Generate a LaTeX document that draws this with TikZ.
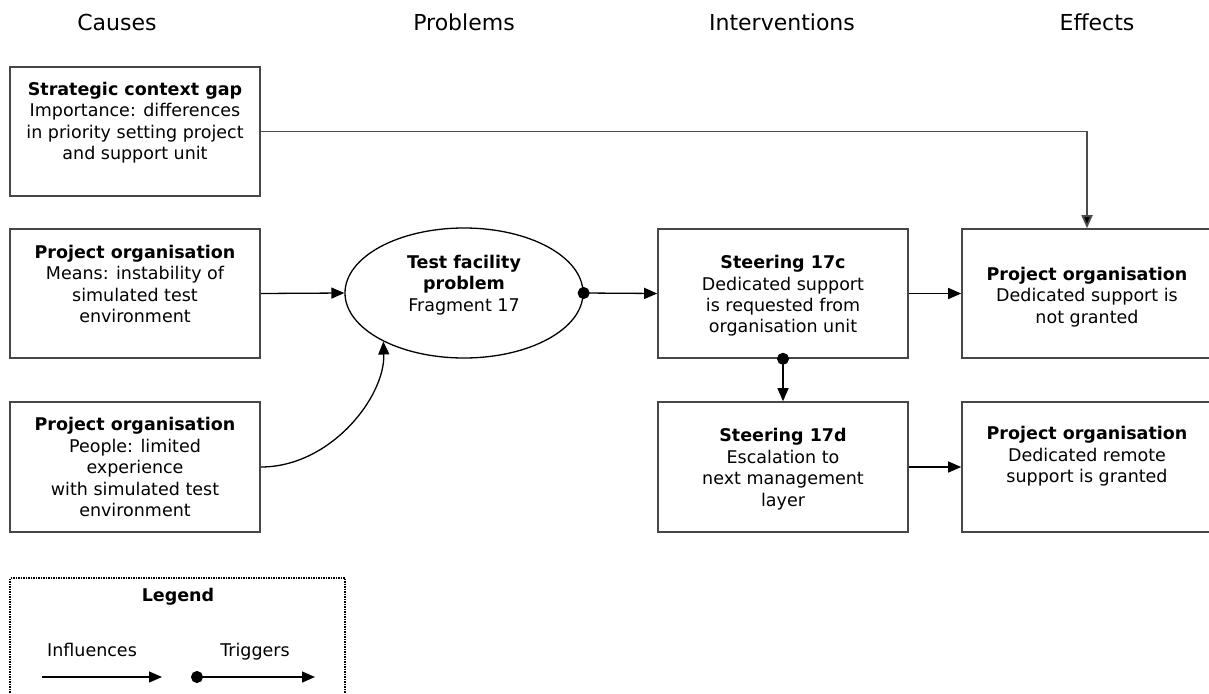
\documentclass[tikz,border=0pt]{standalone}
\usepackage{fontspec}
\setmainfont{DejaVu Sans}
\usetikzlibrary{arrows.meta,shapes.geometric,calc}

\tikzset{
  box/.style={draw=black!72, line width=1.6pt, rectangle, minimum width=250pt,
              minimum height=129pt, inner sep=0pt},
  boxtext/.style={anchor=north, align=center, inner sep=0pt,
                  font=\fontsize{17.5pt}{21.5pt}\selectfont},
  header/.style={anchor=base, inner sep=0pt, font=\fontsize{22pt}{26pt}\selectfont},
  influence/.style={line width=1.3pt, -{Triangle[length=13pt,width=11pt]}},
  trigger/.style={line width=1.3pt, {Circle[length=12pt]}-{Triangle[length=13pt,width=11pt]},
                  shorten <=-6pt},
  legendtext/.style={anchor=base, inner sep=0pt, font=\fontsize{17.5pt}{21.5pt}\selectfont},
}

\begin{document}
\begin{tikzpicture}[x=1pt,y=-1pt]
  \useasboundingbox (0,0) rectangle (1209,693);

  % column headers
  \node[header] (hcauses) at (117,31) {Causes};
  \node[header] (hproblems) at (464,31) {Problems};
  \node[header] (hinterv) at (782,31) {Interventions};
  \node[header] (heffects) at (1097,31) {Effects};

  % causes
  \node[box] (strat) at (135,131.5) {};
  \node[boxtext] (strattxt) at (135,82) {\textbf{Strategic context gap}\\Importance: differences\\in priority setting project\\and support unit};

  \node[box] (means) at (135,293.5) {};
  \node[boxtext] (meanstxt) at (135,245) {\textbf{Project organisation}\\Means: instability of\\simulated test\\environment};

  \node[box, minimum height=130pt] (people) at (135,467) {};
  \node[boxtext] (peopletxt) at (135,417) {\textbf{Project organisation}\\People: limited\\experience\\with simulated test\\environment};

  % problem
  \node[draw, ellipse, line width=1.3pt, minimum width=238pt, minimum height=130pt, inner sep=0pt] (prob) at (464,293) {};
  \node[boxtext] (probtxt) at (464,255) {\textbf{Test facility}\\\textbf{problem}\\Fragment 17};

  % interventions
  \node[box] (st17c) at (783,293.5) {};
  \node[boxtext] (st17ctxt) at (783,255) {\textbf{Steering 17c}\\Dedicated support\\is requested from\\organisation unit};

  \node[box, minimum height=130pt] (st17d) at (783,467) {};
  \node[boxtext] (st17dtxt) at (783,428) {\textbf{Steering 17d}\\Escalation to\\next management\\layer};

  % effects
  \node[box] (eff1) at (1087,293.5) {};
  \node[boxtext] (eff1txt) at (1087,267) {\textbf{Project organisation}\\Dedicated support is\\not granted};

  \node[box, minimum height=130pt] (eff2) at (1087,467) {};
  \node[boxtext] (eff2txt) at (1087,426) {\textbf{Project organisation}\\Dedicated remote\\support is granted};

  % connectors
  \draw[line width=1.8pt, draw=black!70, -{Triangle[length=13pt,width=11pt,fill=black]}] (strat.east) -| (eff1.north);
  \draw[influence] (means.east) -- (prob.west);
  \draw[influence] (people.east) .. controls ($(people.east)+(70,0)$) and ($(prob.211)+(2,55)$) .. (prob.211);
  \draw[trigger] (prob.east) -- (st17c.west);
  \draw[influence] (st17c.east) -- (eff1.west);
  \draw[trigger] (st17c.south) -- (st17d.north);
  \draw[influence] (st17d.east) -- (eff2.west);

  % legend
  \coordinate (lgbl) at (10,700);
  \coordinate (lgtl) at (10,578);
  \coordinate (lgtr) at (345,578);
  \coordinate (lgbr) at (345,700);
  \draw[line width=1.5pt, densely dotted] (lgbl) -- (lgtl) -- (lgtr) -- (lgbr);
  \node[legendtext] (lgtitle) at (178,601.5) {\textbf{Legend}};
  \node[legendtext] (lginf) at (92,656.5) {Influences};
  \node[legendtext] (lgtrig) at (255,656.5) {Triggers};
  \coordinate (infa) at (42,677);
  \coordinate (infb) at (162,677);
  \coordinate (triga) at (197,677);
  \coordinate (trigb) at (315,677);
  \draw[influence] (infa) -- (infb);
  \draw[trigger] (triga) -- (trigb);
\end{tikzpicture}
\end{document}
